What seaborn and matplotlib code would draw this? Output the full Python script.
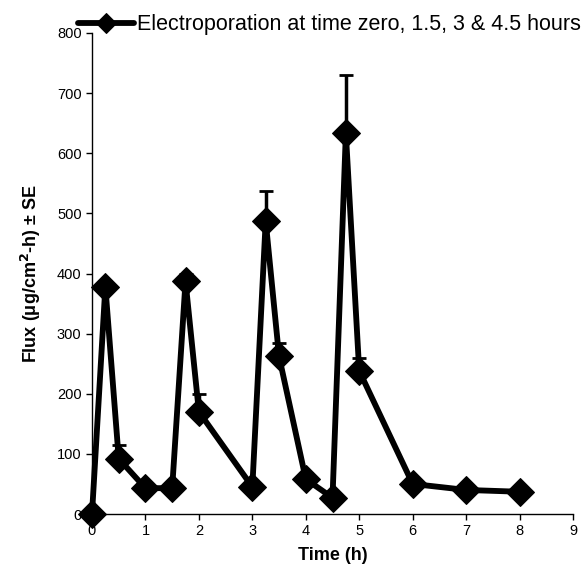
import numpy as np
import pandas as pd
import seaborn as sns
from matplotlib import pyplot as plt

# values
time_h = [0, 0.25, 0.5, 1, 1.5, 1.75, 2, 3, 3.25, 3.5, 4, 4.5, 4.75, 5, 6, 7, 8]
flux = [0, 378, 92, 43, 43, 387, 170, 45, 487, 262, 58, 27, 633, 238, 50, 40, 37]
se = [0, 10, 23, 0, 0, 13, 30, 0, 50, 23, 10, 0, 97, 22, 0, 0, 0]
x_ticks = list(range(0, 10))
y_ticks = list(range(0, 801, 100))
series_label = "Electroporation at time zero, 1.5, 3 & 4.5 hours"

df = pd.DataFrame({'time': time_h, 'flux': flux, 'se': se})

sns.set_style('white')
plt.rcParams['font.family'] = ['Liberation Sans', 'DejaVu Sans']
plt.rcParams['text.color'] = 'black'
plt.rcParams['axes.labelcolor'] = 'black'

fig = plt.figure(figsize=(5.84, 5.77), dpi=100)
ax = fig.add_axes([92 / 584, 63 / 577, 481 / 584, 481 / 577])

# upper-only error bars with caps
ax.errorbar(df.time, df.flux, yerr=[np.zeros(len(df)), df.se], fmt='none',
            ecolor='black', elinewidth=2.5, capsize=5, capthick=2, zorder=2)
sns.lineplot(x='time', y='flux', data=df, sort=False, color='black', linewidth=4.2,
             marker='D', markersize=14, markeredgecolor='black', label=series_label,
             ax=ax, zorder=3, clip_on=False)

ax.set_xlim(0, 9)
ax.set_ylim(0, 800)
ax.set_xticks(x_ticks)
ax.set_yticks(y_ticks)
ax.tick_params(axis='both', direction='out', length=4, width=1, labelsize=10.5,
               bottom=True, left=True, colors='black')
for s in ['top', 'right']:
    ax.spines[s].set_visible(False)
for s in ['left', 'bottom']:
    ax.spines[s].set_color('black')
    ax.spines[s].set_linewidth(1)

ax.set_xlabel('Time (h)', fontsize=13, fontweight='bold', labelpad=6)
ax.set_ylabel('Flux (μg/cm$^{\\mathbf{2}}$-h) ± SE', fontsize=13, fontweight='bold', labelpad=10)

leg = ax.legend(loc='lower left', bbox_to_anchor=(-0.03, 0.995), frameon=False,
                fontsize=15.5, handlelength=2.6, handletextpad=0.15, borderpad=0,
                borderaxespad=0)
leg.legend_handles[0].set_markersize(10)

fig.savefig('out.png', dpi=100)
